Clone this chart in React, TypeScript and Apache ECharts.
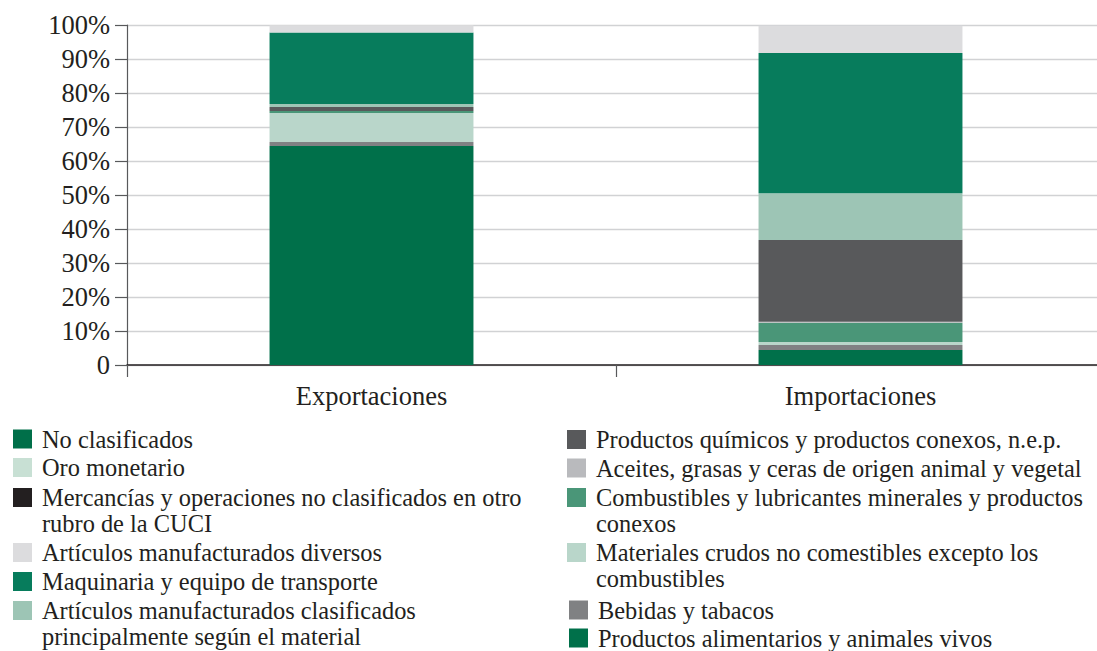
import React, { useEffect, useRef } from "react";
import * as echarts from "echarts";

const categories = ["Exportaciones", "Importaciones"];

// stacked bottom to top (percent of total)
const alimentarios = [64.4, 4.4];
const bebidas = [1.2, 1.5];
const materialesCrudos = [8.5, 0.9];
const combustibles = [0.6, 5.6];
const aceites = [0, 0.3];
const quimicos = [1.2, 24.1];
const manufClasificados = [0.9, 13.7];
const maquinaria = [21.0, 41.3];
const manufDiversos = [2.1, 8.0];
const mercancias = [0, 0];
const oroMonetario = [0, 0];
const noClasificados = [0, 0];

const seriesDefs = [
  { name: "Productos alimentarios y animales vivos", data: alimentarios, color: "#00704a" },
  { name: "Bebidas y tabacos", data: bebidas, color: "#808183" },
  { name: "Materiales crudos no comestibles excepto los combustibles", data: materialesCrudos, color: "#b9d6ca" },
  { name: "Combustibles y lubricantes minerales y productos conexos", data: combustibles, color: "#4a9678" },
  { name: "Aceites, grasas y ceras de origen animal y vegetal", data: aceites, color: "#b9babd" },
  { name: "Productos químicos y productos conexos, n.e.p.", data: quimicos, color: "#58595b" },
  { name: "Artículos manufacturados clasificados principalmente según el material", data: manufClasificados, color: "#9dc5b5" },
  { name: "Maquinaria y equipo de transporte", data: maquinaria, color: "#077c5c" },
  { name: "Artículos manufacturados diversos", data: manufDiversos, color: "#dcdcde" },
  { name: "Mercancías y operaciones no clasificados en otro rubro de la CUCI", data: mercancias, color: "#231f20" },
  { name: "Oro monetario", data: oroMonetario, color: "#c8e0d4" },
  { name: "No clasificados", data: noClasificados, color: "#006f49" },
];

const legendLabels: Record<string, string> = {
  "Mercancías y operaciones no clasificados en otro rubro de la CUCI":
    "Mercancías y operaciones no clasificados en otro\nrubro de la CUCI",
  "Artículos manufacturados clasificados principalmente según el material":
    "Artículos manufacturados clasificados\nprincipalmente según el material",
  "Combustibles y lubricantes minerales y productos conexos":
    "Combustibles y lubricantes minerales y productos\nconexos",
  "Materiales crudos no comestibles excepto los combustibles":
    "Materiales crudos no comestibles excepto los\ncombustibles",
};

// legend layout: [name, left, icon center y]
const legendLayout: [string, number, number][] = [
  ["No clasificados", 13, 439],
  ["Oro monetario", 13, 467.5],
  ["Mercancías y operaciones no clasificados en otro rubro de la CUCI", 13, 497.5],
  ["Artículos manufacturados diversos", 13, 552.5],
  ["Maquinaria y equipo de transporte", 13, 581.5],
  ["Artículos manufacturados clasificados principalmente según el material", 13, 610.5],
  ["Productos químicos y productos conexos, n.e.p.", 567, 439.5],
  ["Aceites, grasas y ceras de origen animal y vegetal", 567, 468],
  ["Combustibles y lubricantes minerales y productos conexos", 567, 497.5],
  ["Materiales crudos no comestibles excepto los combustibles", 567, 552.5],
  ["Bebidas y tabacos", 569, 610],
  ["Productos alimentarios y animales vivos", 569, 638],
];

const FONT = "'Liberation Serif', 'Times New Roman', serif";
const AXIS_FS = 26.5;
const LEG_FS = 24.4;
const LH = 26;
const ICON = 19;

export default function App() {
  const ref = useRef<HTMLDivElement>(null);
  useEffect(() => {
    if (!ref.current) return;
    const chart = echarts.init(ref.current, null, { renderer: "svg" });
    const legends = legendLayout.map(([name, left, cy]) => {
      const multi = !!legendLabels[name];
      const h = multi ? ICON + LH : ICON;
      return {
        show: true,
        data: [name],
        left,
        top: cy - ICON / 2 - (LH - ICON) / 2,
        padding: 0,
        itemGap: 0,
        itemWidth: ICON,
        itemHeight: h,
        icon: multi
          ? `path://M0,0L${ICON},0L${ICON},${ICON}L0,${ICON}Z M0,${h}L0.001,${h}Z`
          : "rect",
        selectedMode: false,
        formatter: (n: string) => legendLabels[n] || n,
        textStyle: {
          fontFamily: FONT,
          fontSize: LEG_FS,
          lineHeight: LH,
          color: "#231f20",
          padding: [0, 0, 0, 5],
        },
      };
    });
    chart.setOption({
      animation: false,
      backgroundColor: "#ffffff",
      grid: {
        left: 127,
        width: 978,
        top: 25,
        height: 340,
        containLabel: false,
        outerBoundsMode: "none",
      },
      legend: legends,
      xAxis: {
        type: "category",
        data: categories,
        axisLine: { show: true, lineStyle: { color: "#231f20", width: 1.5 } },
        axisTick: { show: true, inside: false, length: 12, alignWithLabel: false, lineStyle: { color: "#58595b", width: 1.2 } },
        axisLabel: { fontFamily: FONT, fontSize: AXIS_FS, color: "#231f20", margin: 17 },
      },
      yAxis: {
        type: "value",
        min: 0,
        max: 100,
        interval: 10,
        axisLine: { show: true, lineStyle: { color: "#58595b", width: 1.2 } },
        axisTick: { show: true, length: 12, lineStyle: { color: "#58595b", width: 1.2 } },
        splitLine: { show: true, lineStyle: { color: "#d1d2d4", width: 1.3 } },
        axisLabel: {
          fontFamily: FONT,
          fontSize: AXIS_FS,
          color: "#231f20",
          margin: 17,
          formatter: (v: number) => (v === 0 ? "0" : v + "%"),
        },
      },
      series: seriesDefs.map((s) => ({
        name: s.name,
        type: "bar",
        stack: "total",
        data: s.data,
        barWidth: "41.7%",
        itemStyle: { color: s.color },
        emphasis: { disabled: true },
      })),
    });
    return () => chart.dispose();
  }, []);
  return (
    <div
      ref={ref}
      style={{ position: "fixed", left: 0, top: 0, width: 1097, height: 651, background: "#fff" }}
    />
  );
}
